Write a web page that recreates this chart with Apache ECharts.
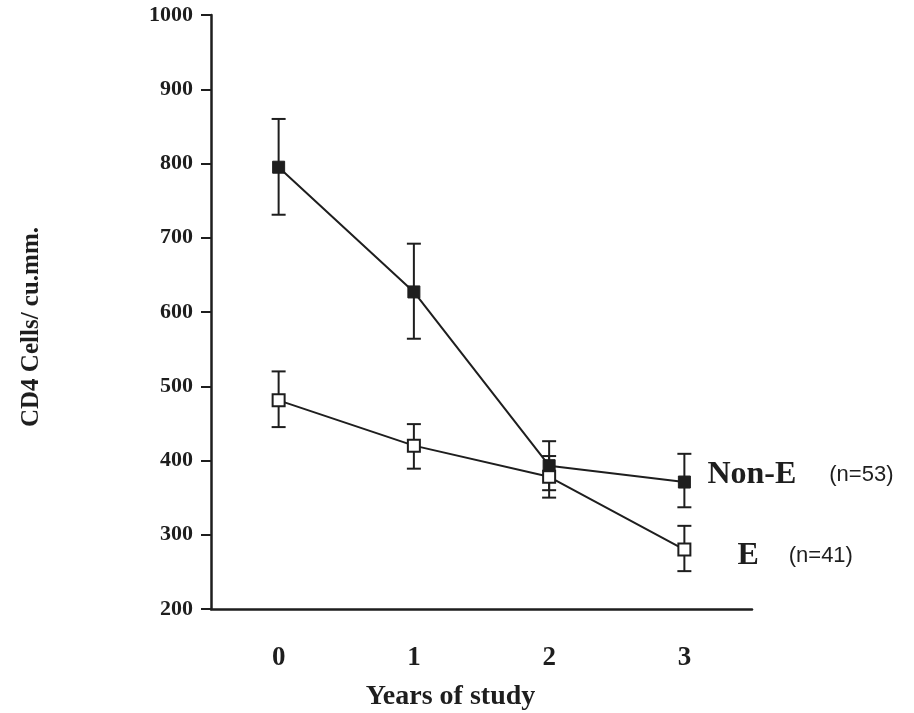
<!DOCTYPE html>
<html><head><meta charset="utf-8">
<script src="https://cdn.jsdelivr.net/npm/echarts@6/dist/echarts.min.js"></script>
<style>html,body{margin:0;padding:0;background:#fff}#c{width:914px;height:713px}</style>
</head><body><div id="c"></div>
<script>
const years = ['0', '1', '2', '3'];
const nonEMean = [795, 627, 393, 371];
const nonELow  = [731, 564, 360, 337];
const nonEHigh = [860, 692, 426, 409];
const eMean = [481, 420, 378, 280];
const eLow  = [445, 389, 350, 251];
const eHigh = [520, 449, 406, 312];

const ink = '#1e1e1e';
const serif = '"Liberation Serif", "Times New Roman", serif';
const sans = '"Liberation Sans", Arial, sans-serif';

function errRender(params, api) {
  const x = api.value(0), lo = api.value(1), hi = api.value(2);
  const p1 = api.coord([x, hi]), p2 = api.coord([x, lo]);
  const w = 7;
  const style = { stroke: ink, lineWidth: 2, fill: null };
  return { type: 'group', children: [
    { type: 'line', shape: { x1: p1[0], y1: p1[1], x2: p2[0], y2: p2[1] }, style },
    { type: 'line', shape: { x1: p1[0] - w, y1: p1[1], x2: p1[0] + w, y2: p1[1] }, style },
    { type: 'line', shape: { x1: p2[0] - w, y1: p2[1], x2: p2[0] + w, y2: p2[1] }, style }
  ]};
}

const chart = echarts.init(document.getElementById('c'));
chart.setOption({
  backgroundColor: '#fff',
  animation: false,
  grid: { left: 211, right: 162, top: 15, bottom: 104, containLabel: false, outerBoundsMode: 'none' },
  xAxis: {
    type: 'category', data: years, boundaryGap: true,
    name: 'Years of study', nameLocation: 'middle', nameGap: 74,
    nameTextStyle: { fontFamily: serif, fontWeight: 'bold', fontSize: 28, color: ink, padding: [0, 62, 0, 0] },
    axisLine: { lineStyle: { color: ink, width: 2.5 } },
    axisTick: { alignWithLabel: true, length: 11, lineStyle: { color: ink, width: 2 } },
    axisLabel: { fontFamily: serif, fontWeight: 'bold', fontSize: 27, color: ink, margin: 36 },
    splitLine: { show: false }
  },
  yAxis: {
    type: 'value', min: 200, max: 1000, interval: 100,
    name: 'CD4 Cells/ cu.mm.', nameLocation: 'middle', nameGap: 167, nameRotate: 90,
    nameTextStyle: { fontFamily: serif, fontWeight: 'bold', fontSize: 25, color: ink, padding: [0, 30, 0, 0] },
    axisLine: { show: true, lineStyle: { color: ink, width: 2.5 } },
    axisTick: { show: true, length: 10, lineStyle: { color: ink, width: 2 } },
    axisLabel: { fontFamily: serif, fontWeight: 'bold', fontSize: 22, color: ink, margin: 18,
                 formatter: v => String(v) },
    splitLine: { show: false }
  },
  series: [
    { type: 'custom', renderItem: errRender, encode: { x: 0, y: [1, 2] }, z: 1,
      data: years.map((y, i) => [i, nonELow[i], nonEHigh[i]]) },
    { type: 'custom', renderItem: errRender, encode: { x: 0, y: [1, 2] }, z: 1,
      data: years.map((y, i) => [i, eLow[i], eHigh[i]]) },
    { name: 'E', type: 'line', data: eMean, z: 3,
      symbol: 'rect', symbolSize: 12,
      itemStyle: { color: '#fff', borderColor: ink, borderWidth: 2 },
      lineStyle: { color: ink, width: 2 },
      endLabel: { show: true, distance: 53, offset: [0, 6],
        formatter: '{a|E}{b|(n=41)}',
        rich: { a: { fontFamily: serif, fontWeight: 'bold', fontSize: 32, color: ink },
                b: { fontFamily: sans, fontSize: 22, color: ink, padding: [0, 0, 0, 30] } } } },
    { name: 'Non-E', type: 'line', data: nonEMean, z: 4,
      symbol: 'rect', symbolSize: 12,
      itemStyle: { color: ink, borderColor: ink, borderWidth: 1 },
      lineStyle: { color: ink, width: 2 },
      endLabel: { show: true, distance: 23, offset: [0, -7],
        formatter: '{a|Non-E}{b|(n=53)}',
        rich: { a: { fontFamily: serif, fontWeight: 'bold', fontSize: 32, color: ink },
                b: { fontFamily: sans, fontSize: 22, color: ink, padding: [0, 0, 0, 33] } } } }
  ]
});
</script></body></html>
